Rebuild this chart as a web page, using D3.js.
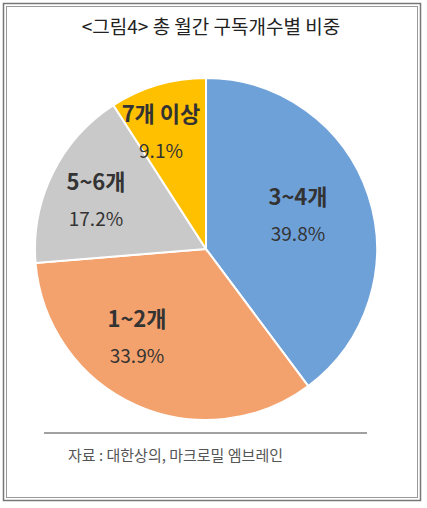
<!DOCTYPE html>
<html><head><meta charset="utf-8">
<script src="https://cdn.jsdelivr.net/npm/d3@7"></script>
<style>body{margin:0;background:#fff}</style>
</head><body>
<svg id="c" width="427" height="508"></svg>
<script>
// data
var categories = ["3~4개", "1~2개", "5~6개", "7개 이상"];
var values = [39.8, 33.9, 17.2, 9.1];
var colors = ["#6FA1D9", "#F3A26D", "#C9C9C9", "#FFC000"];
var labelPos = [[298, 205], [137, 327], [96, 190], [161, 122]];

var svg = d3.select("#c");
var font = "'Noto Sans CJK KR', sans-serif";

// double frame
svg.append("rect").attr("x", 3.5).attr("y", 3.5).attr("width", 417).attr("height", 497)
  .attr("fill", "none").attr("stroke", "#777").attr("stroke-width", 1.5);
svg.append("rect").attr("x", 6.5).attr("y", 6.5).attr("width", 411).attr("height", 491)
  .attr("fill", "none").attr("stroke", "#999").attr("stroke-width", 1);

svg.append("text").attr("x", 211).attr("y", 34).attr("text-anchor", "middle")
  .attr("font-family", font).attr("font-size", 19).attr("fill", "#222")
  .text("<그림4> 총 월간 구독개수별 비중");

var cx = 206, cy = 249, r = 171;
var pie = d3.pie().sort(null).value(function(d) { return d; });
var arc = d3.arc().innerRadius(0).outerRadius(r);
var g = svg.append("g").attr("transform", "translate(" + cx + "," + cy + ")");
g.selectAll("path").data(pie(values)).enter().append("path")
  .attr("d", arc)
  .attr("fill", function(d, i) { return colors[i]; })
  .attr("stroke", "#fff").attr("stroke-width", 2);

categories.forEach(function(c, i) {
  svg.append("text").attr("x", labelPos[i][0]).attr("y", labelPos[i][1])
    .attr("text-anchor", "middle").attr("font-family", font)
    .attr("font-size", 22).attr("font-weight", "bold").attr("fill", "#333").text(c);
  svg.append("text").attr("x", labelPos[i][0]).attr("y", labelPos[i][1] + 36)
    .attr("text-anchor", "middle").attr("font-family", font)
    .attr("font-size", 19).attr("fill", "#333").text(values[i].toFixed(1) + "%");
});

svg.append("line").attr("x1", 44).attr("x2", 367).attr("y1", 433).attr("y2", 433)
  .attr("stroke", "#444").attr("stroke-width", 1.2);
svg.append("text").attr("x", 68).attr("y", 461)
  .attr("font-family", font).attr("font-size", 15).attr("fill", "#555")
  .text("자료 : 대한상의, 마크로밀 엠브레인");
</script>
</body></html>
